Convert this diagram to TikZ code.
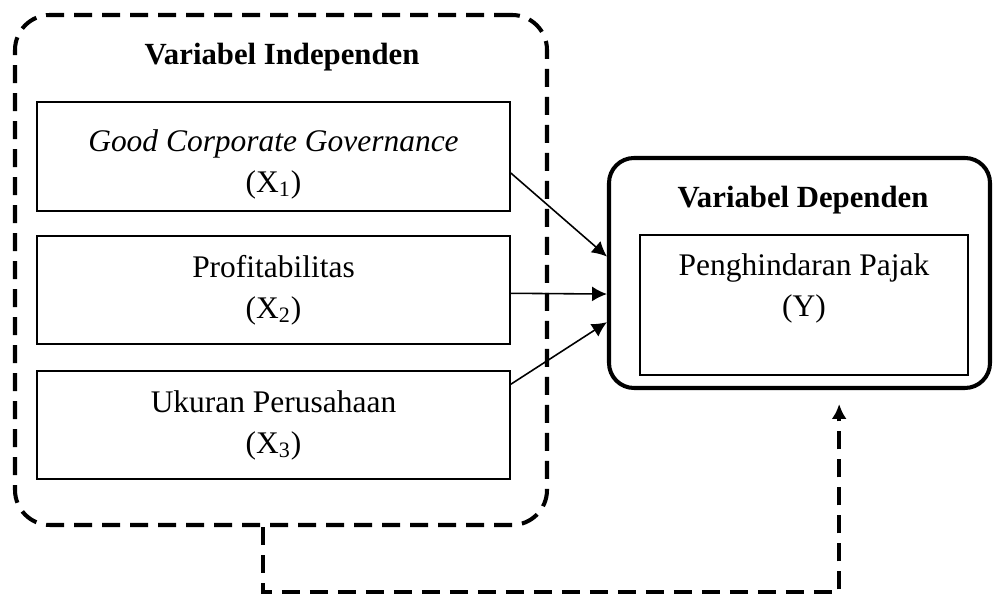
\documentclass[tikz,border=0pt]{standalone}
\usepackage{fontspec}
\setmainfont{Liberation Serif}
\usepackage{tikz}
\usetikzlibrary{calc}
\usetikzlibrary{arrows.meta}
\tikzset{>={Latex[length=8.5pt,width=8.5pt]}}
\tikzstyle{varbox}=[draw,line width=0.9pt,minimum width=9.46cm,minimum height=2.17cm,align=center,inner sep=0]
\tikzstyle{grpbox}=[draw,line width=2.3pt,dash pattern=on 0.36cm off 0.2cm,rounded corners=0.7cm,minimum width=10.64cm,minimum height=10.2cm]
\tikzstyle{depbox}=[draw,line width=2.3pt,rounded corners=0.5cm,minimum width=7.62cm,minimum height=4.6cm]
\tikzstyle{titletext}=[font=\fontsize{17.5}{23}\selectfont\bfseries]
\tikzstyle{link}=[->,line width=0.9pt]
\tikzstyle{dlink}=[->,line width=2.3pt,dash pattern=on 0.36cm off 0.2cm]

\begin{document}
\begin{tikzpicture}[font=\fontsize{17.9}{23.3}\selectfont]
\useasboundingbox (0,0) rectangle (19.86,12.02);

% variabel independen
\node[grpbox] (indep) at (5.62,6.62) {};
\node[titletext] (indeptitle) at (5.64,10.88) {Variabel Independen};
\node[varbox] (gcg) at (5.47,8.89) {\rule{0pt}{0.75cm}\textit{Good Corporate Governance}\\(X\textsubscript{1})};
\node[varbox] (profit) at (5.47,6.22) {Profitabilitas\\(X\textsubscript{2})};
\node[varbox] (ukuran) at (5.47,3.52) {Ukuran Perusahaan\\(X\textsubscript{3})};

% variabel dependen
\node[depbox] (dep) at (15.99,6.56) {};
\node[titletext] (deptitle) at (16.06,8.02) {Variabel Dependen};
\node[draw,line width=0.9pt,minimum width=6.56cm,minimum height=2.8cm] (pajakbox) at (16.08,5.92) {};
\node[align=center] (pajak) at (16.08,6.25) {Penghindaran Pajak\\(Y)};

\draw[link] ($(gcg.north east)!0.65!(gcg.south east)$) -- ($(dep.north west)!0.43!(dep.south west)$);
\draw[link] ($(profit.north east)!0.53!(profit.south east)$) -- ($(dep.north west)!0.59!(dep.south west)$);
\draw[link] ($(ukuran.north east)!0.13!(ukuran.south east)$) -- ($(dep.north west)!0.71!(dep.south west)$);

%\draw[link] (indep.south) -- (dep.south);
\draw[dlink,shorten >=0.28cm] ($(indep.south west)!0.466!(indep.south east)$) -- ++(0,-1.30)
  -| ($(dep.south west)!0.603!(dep.south east)$);
\end{tikzpicture}
\end{document}
